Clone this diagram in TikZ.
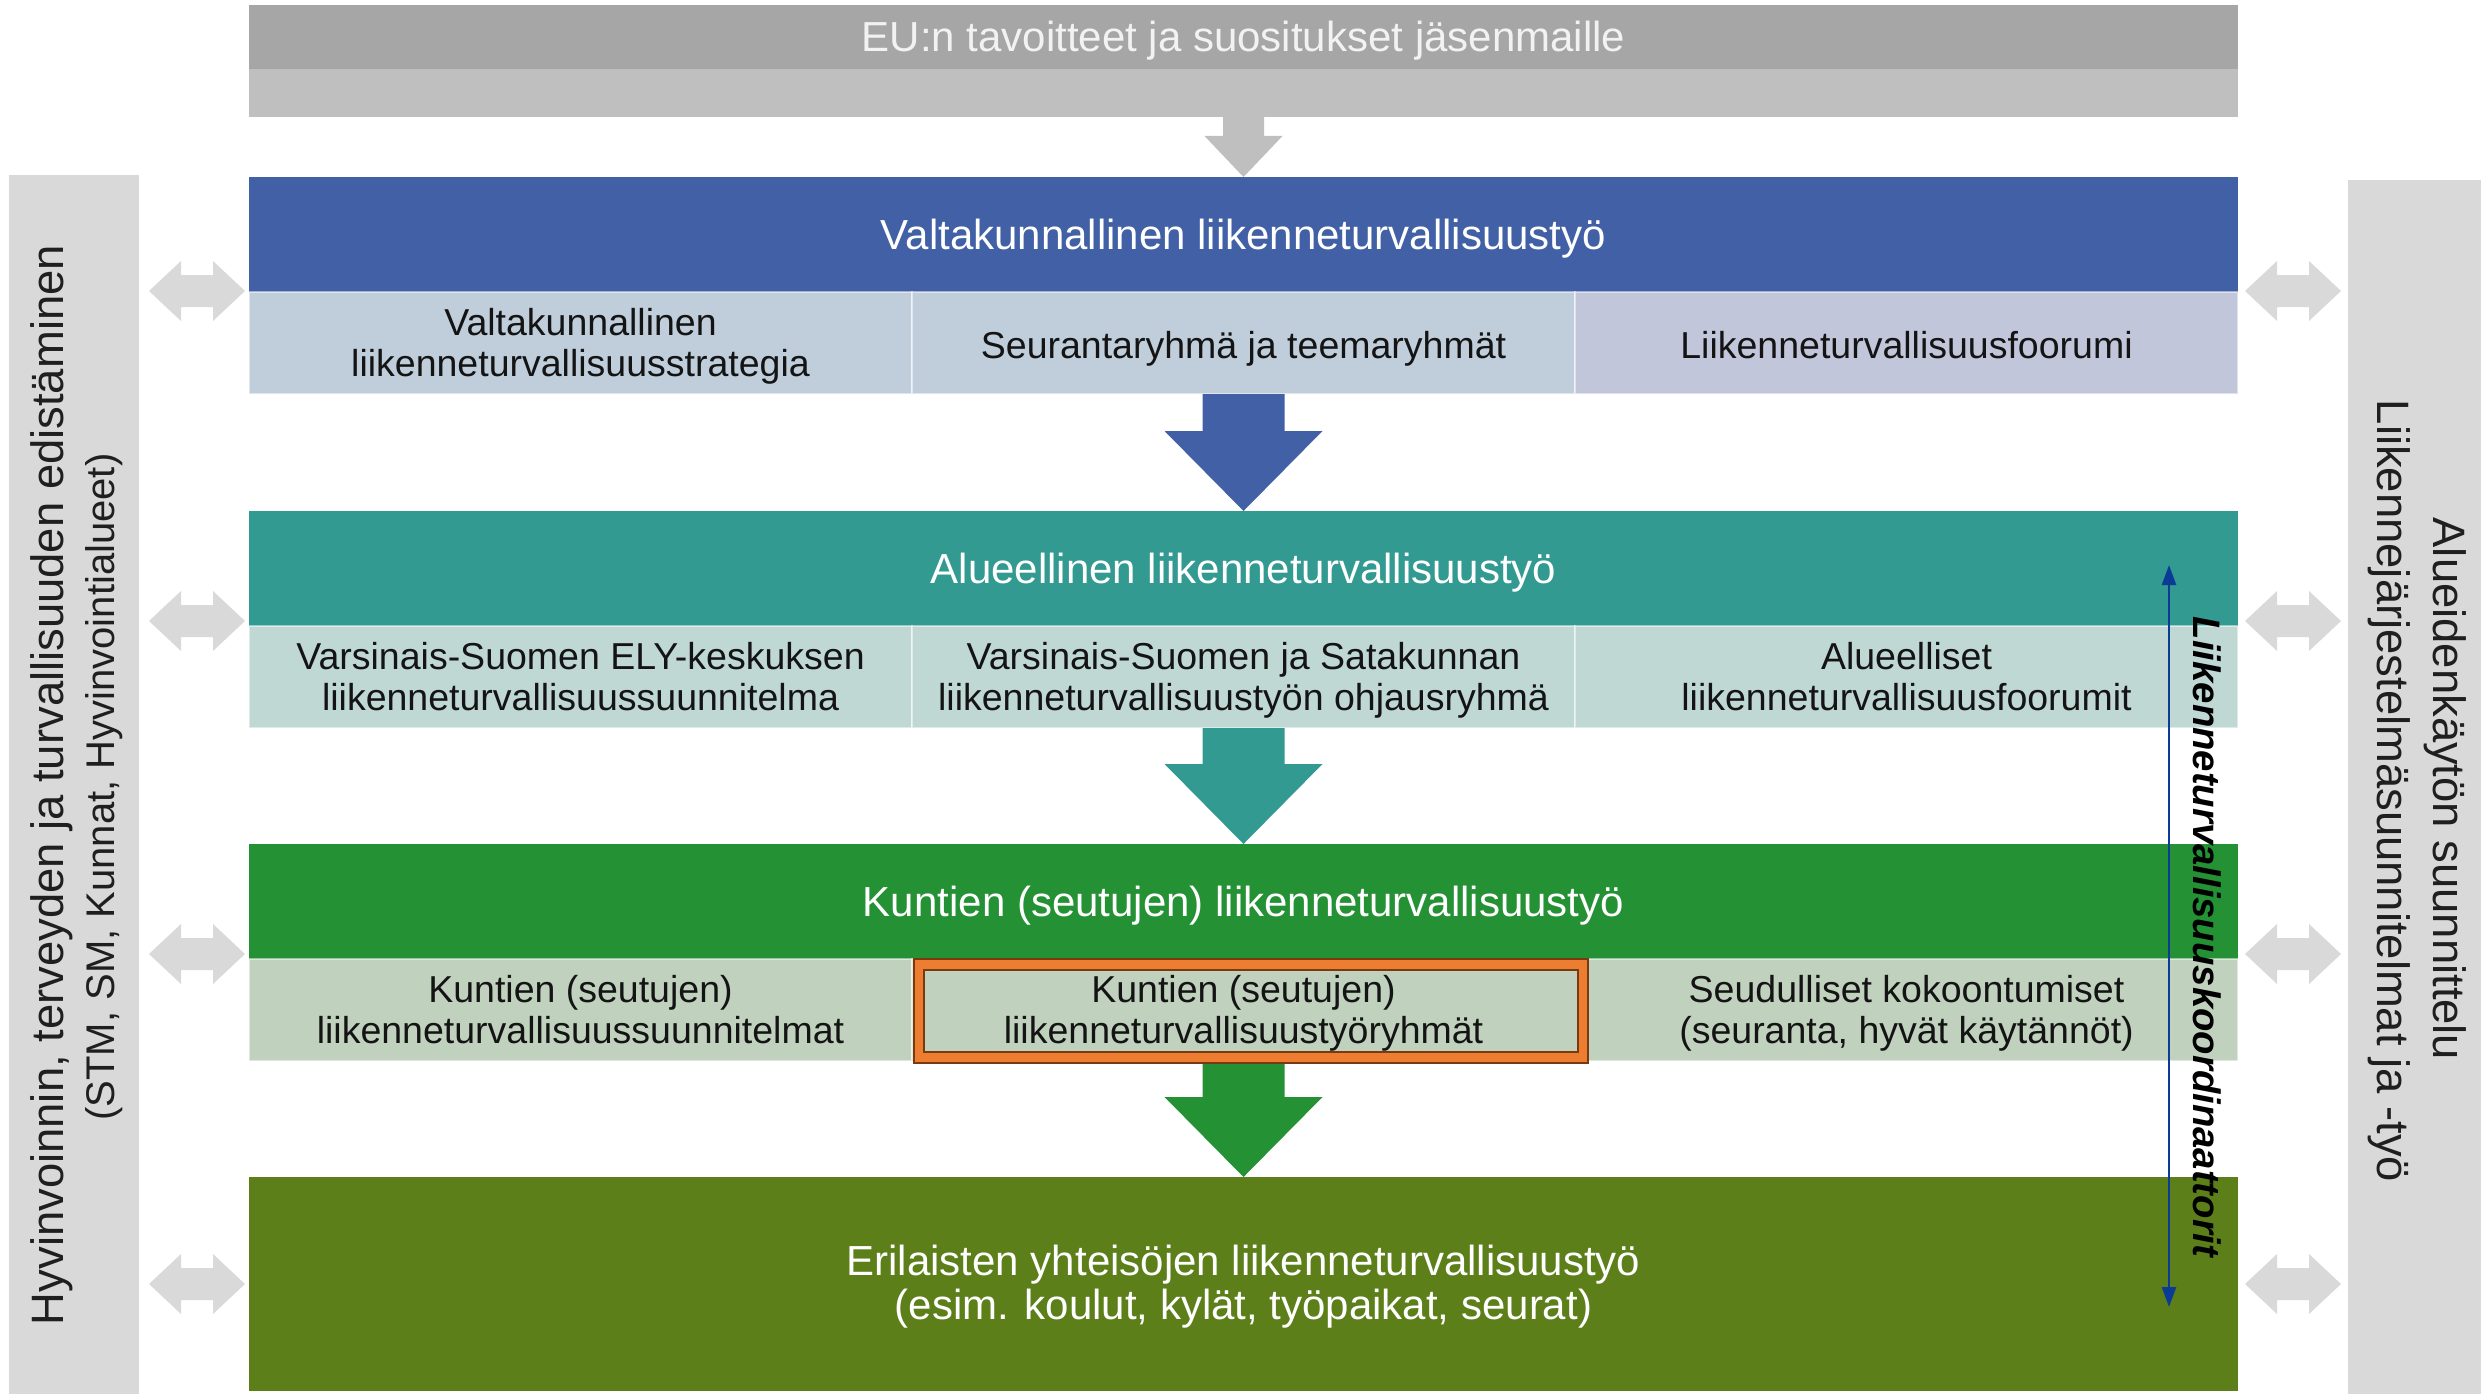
\documentclass[tikz,border=0pt]{standalone}
\usepackage{fontspec}
\setmainfont{Liberation Sans}
\usetikzlibrary{arrows.meta,calc}
\definecolor{eudark}{HTML}{A6A6A6}
\definecolor{eulight}{HTML}{BFBFBF}
\definecolor{eutext}{HTML}{F2F2F2}
\definecolor{sidegray}{HTML}{D9D9D9}
\definecolor{blueH}{HTML}{4260A5}
\definecolor{blueS}{HTML}{C0CEDB}
\definecolor{blueS2}{HTML}{C2C6DA}
\definecolor{tealH}{HTML}{339A92}
\definecolor{tealS}{HTML}{BFD8D4}
\definecolor{greenH}{HTML}{249134}
\definecolor{greenS}{HTML}{C0D2BE}
\definecolor{oliveH}{HTML}{5C7F1A}
\definecolor{orangeF}{HTML}{ED7D31}
\definecolor{orangeD}{HTML}{7A3A10}
\definecolor{koordblue}{HTML}{0A3C96}
\definecolor{sidetext}{HTML}{1F1F1F}
\definecolor{celltext}{HTML}{141414}
\newcommand\hdrfnt{\fontsize{42}{44}\selectfont}
\newcommand\cellfnt{\fontsize{37.5}{41}\selectfont}
\newcommand\sidefnt{\fontsize{45.4}{52}\selectfont}
\newcommand\sidefntb{\fontsize{40}{46}\selectfont}
\newcommand\koordfnt{\fontsize{38.3}{44}\selectfont\bfseries\itshape}
\newcommand\linestrut{\rule[-0.212em]{0pt}{1.117em}}
\newcommand\cellstrut{\rule[-0.212em]{0pt}{\dimexpr1.117em+6pt\relax}}
\newcommand\mlstrut{\rule{0pt}{\dimexpr0.73em+6pt\relax}}
\newcommand\lvlarrow[3]{\fill[#1] ($(#2)+(-41,0)$) -- ($(#2)+(41,0)$) -- ($(#3)+(41,-80)$) -- ($(#3)+(79,-80)$) -- (#3) -- ($(#3)+(-79,-80)$) -- ($(#3)+(-41,-80)$) -- cycle;}
\tikzset{
  struts/.style={execute at begin node={\linestrut}, execute at end node={\linestrut}},
  cellstruts/.style={execute at begin node={\cellstrut}, execute at end node={\linestrut}},
  bar/.style={rectangle, inner sep=0pt, outer sep=0pt, anchor=north west, minimum width=1989pt},
  hdr/.style={bar, minimum height=115pt, text=white, font=\hdrfnt, align=center, struts},
  cell/.style={rectangle, inner sep=0pt, outer sep=0pt, anchor=north west, minimum width=663pt, minimum height=102pt, align=center, font=\cellfnt, text=celltext, draw=white, draw opacity=0.5, line width=1.5pt, cellstruts},
  sidebar/.style={rectangle, inner sep=0pt, outer sep=0pt, anchor=north west, fill=sidegray},
  pics/dblarrow/.style={code={\fill[sidegray] (-48,0) -- (-16,-30) -- (-16,-16) -- (16,-16) -- (16,-30) -- (48,0) -- (16,30) -- (16,16) -- (-16,16) -- (-16,30) -- cycle;}}
}
\begin{document}
\begin{tikzpicture}[x=1pt,y=-1pt]
\useasboundingbox (0,0) rectangle (2481,1394);
% EU bar
\node[bar, fill=eudark, minimum height=64pt, text=eutext, font=\hdrfnt, struts] (eu) at (249,5) {EU:n tavoitteet ja suositukset jäsenmaille};
\node[bar, fill=eulight, minimum height=48pt] (eu2) at (249,69) {};
% side bars
\node[sidebar, minimum width=130pt, minimum height=1219pt] (lbar) at (9,175) {};
\node[sidebar, minimum width=133pt, minimum height=1214pt] (rbar) at (2348,180) {};
% level 1
\node[hdr, fill=blueH] (h1) at (249,177) {Valtakunnallinen liikenneturvallisuustyö};
\node[cell, fill=blueS] (c11) at (249,292) {\mlstrut Valtakunnallinen\\liikenneturvallisuusstrategia};
\node[cell, fill=blueS] (c12) at (c11.north east) {Seurantaryhmä ja teemaryhmät};
\node[cell, fill=blueS2] (c13) at (c12.north east) {Liikenneturvallisuusfoorumi};
% level 2
\node[hdr, fill=tealH] (h2) at (249,511) {Alueellinen liikenneturvallisuustyö};
\node[cell, fill=tealS] (c21) at (249,626) {\mlstrut Varsinais-Suomen ELY-keskuksen\\liikenneturvallisuussuunnitelma};
\node[cell, fill=tealS] (c22) at (c21.north east) {\mlstrut Varsinais-Suomen ja Satakunnan\\liikenneturvallisuustyön ohjausryhmä};
\node[cell, fill=tealS] (c23) at (c22.north east) {\mlstrut Alueelliset\\liikenneturvallisuusfoorumit};
% level 3
\node[hdr, fill=greenH] (h3) at (249,844) {Kuntien (seutujen) liikenneturvallisuustyö};
\node[cell, fill=greenS] (c31) at (249,959) {\mlstrut Kuntien (seutujen)\\liikenneturvallisuussuunnitelmat};
\node[cell, fill=greenS] (c32) at (c31.north east) {};
\node[cell, fill=greenS] (c33) at (c32.north east) {\mlstrut Seudulliset kokoontumiset\\(seuranta, hyvät käytännöt)};
% level 4
\node[bar, fill=oliveH, minimum height=214pt, text=white, font=\hdrfnt, align=center, struts] (h4) at (249,1177) {\mlstrut Erilaisten yhteisöjen liikenneturvallisuustyö\\(esim. koulut, kylät, työpaikat, seurat)};
% arrows between levels
\fill[eulight] ($(eu2.south)+(-20.5,0)$) -- ($(eu2.south)+(20.5,0)$) -- ($(h1.north)+(20.5,-41)$) -- ($(h1.north)+(39,-41)$) -- (h1.north) -- ($(h1.north)+(-39,-41)$) -- ($(h1.north)+(-20.5,-41)$) -- cycle;
\lvlarrow{blueH}{c12.south}{h2.north}
\lvlarrow{tealH}{c22.south}{h3.north}
\lvlarrow{greenH}{c32.south}{h4.north}
% highlighted box
\node[draw=orangeD, line width=2pt, fill=orangeF, minimum width=674pt, minimum height=104pt, anchor=north west, inner sep=0pt] (obox) at (913,958) {};
\node[draw=orangeD, line width=2pt, fill=greenS, minimum width=654pt, minimum height=82pt, inner sep=0pt] (ibox) at (obox.center) {};
\node[font=\cellfnt, text=celltext, align=center, inner sep=0pt, struts] (t32) at (c32.center) {\mlstrut Kuntien (seutujen)\\liikenneturvallisuustyöryhmät};
% double arrows
\path (lbar.east |- c11.north) -- (c11.north west) coordinate[midway] (la1);
\path (lbar.east |- c21.north) -- (c21.north west) coordinate[midway] (la2);
\path (lbar.east |- c31.north) -- (c31.north west) coordinate[midway] (la3);
\path (lbar.east |- h4.west) -- (h4.west) coordinate[midway] (la4);
\path (c13.north east) -- (rbar.west |- c13.north) coordinate[midway] (ra1);
\path (c23.north east) -- (rbar.west |- c23.north) coordinate[midway] (ra2);
\path (c33.north east) -- (rbar.west |- c33.north) coordinate[midway] (ra3);
\path (h4.east) -- (rbar.west |- h4.east) coordinate[midway] (ra4);
\pic at ($(la1)+(3,-1)$) {dblarrow};
\pic at ($(la2)+(3,-5)$) {dblarrow};
\pic at ($(la3)+(3,-5)$) {dblarrow};
\pic at ($(la4)+(3,0)$) {dblarrow};
\pic at ($(ra1)+(0,-1)$) {dblarrow};
\pic at ($(ra2)+(0,-5)$) {dblarrow};
\pic at ($(ra3)+(0,-5)$) {dblarrow};
\pic at (ra4) {dblarrow};
% side texts
\node[rotate=90, font=\sidefnt, text=sidetext, inner sep=0pt] (lt1) at (52,785) {Hyvinvoinnin, terveyden ja turvallisuuden edistäminen};
\node[rotate=90, font=\sidefntb, text=sidetext, inner sep=0pt] (lt2) at (104,787) {(STM, SM, Kunnat, Hyvinvointialueet)};
\node[rotate=-90, font=\sidefnt, text=sidetext, inner sep=0pt] (rt1) at (2445,789) {Alueidenkäytön suunnittelu};
\node[rotate=-90, font=\sidefnt, text=sidetext, inner sep=0pt] (rt2) at (2389,791) {Liikennejärjestelmäsuunnitelmat ja -työ};
% coordinators
\coordinate (ktop) at (2169,565);
\coordinate (kbot) at (2169,1307);
\draw[koordblue, line width=2.5pt, {Triangle[length=20pt,width=14pt]}-{Triangle[length=20pt,width=14pt]}] (ktop) -- (kbot);
\node[rotate=-90, font=\koordfnt, inner sep=0pt] (ktext) at (2207,937) {Liikenneturvallisuuskoordinaattorit};
\end{tikzpicture}
\end{document}
